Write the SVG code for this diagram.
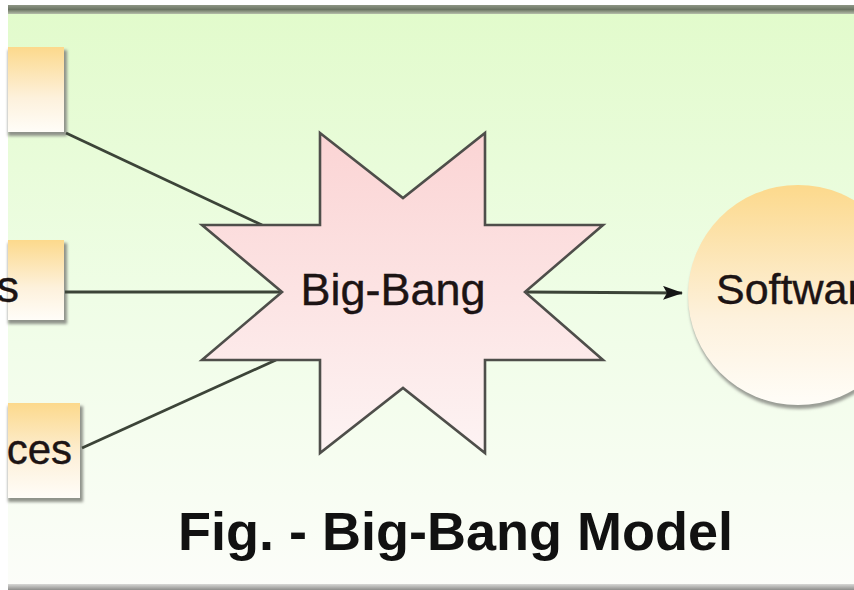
<svg xmlns="http://www.w3.org/2000/svg" width="854" height="590" viewBox="0 0 854 590">
  <defs>
    <linearGradient id="bg" x1="0" y1="0" x2="0" y2="1">
      <stop offset="0" stop-color="#e2fbcc"/>
      <stop offset="0.5" stop-color="#effde6"/>
      <stop offset="1" stop-color="#fcfdf9"/>
    </linearGradient>
    <linearGradient id="topband" x1="0" y1="0" x2="0" y2="1">
      <stop offset="0" stop-color="#8e9685"/>
      <stop offset="0.5" stop-color="#6c7564"/>
      <stop offset="1" stop-color="#b5bdaa"/>
    </linearGradient>
    <linearGradient id="botband" x1="0" y1="0" x2="0" y2="1">
      <stop offset="0" stop-color="#d8d8d6"/>
      <stop offset="1" stop-color="#8e8e8c"/>
    </linearGradient>
    <linearGradient id="orange" x1="0" y1="0" x2="0" y2="1">
      <stop offset="0" stop-color="#fcd98c"/>
      <stop offset="0.6" stop-color="#fdf1dc"/>
      <stop offset="1" stop-color="#fffdf8"/>
    </linearGradient>
    <linearGradient id="pink" x1="0" y1="0" x2="0" y2="1">
      <stop offset="0" stop-color="#fbd4d4"/>
      <stop offset="1" stop-color="#fdf3f3"/>
    </linearGradient>
    <filter id="blur" x="-20%" y="-20%" width="140%" height="140%">
      <feGaussianBlur stdDeviation="1.5"/>
    </filter>
    <marker id="arrowhead" viewBox="0 0 20 14" refX="19" refY="7" markerWidth="20" markerHeight="14" markerUnits="userSpaceOnUse" orient="auto">
      <path d="M0,0 L20,7 L0,14 L4,7 z" fill="#151515"/>
    </marker>
  </defs>
  <style>
    .shadow { fill: #8f938a; filter: url(#blur); }
    .box { fill: url(#orange); }
    .lbl { font-family: "Liberation Sans", Arial, sans-serif; font-size: 45px; fill: #1c1414; stroke: #1c1414; stroke-width: 0.4; }
    .conn { stroke: #3c4438; stroke-width: 2.8; fill: none; }
    .cap { font-family: "Liberation Sans", Arial, sans-serif; font-size: 54px; font-weight: bold; fill: #111; }
  </style>

  <rect x="0" y="0" width="854" height="590" fill="#ffffff"/>
  <rect x="8" y="14" width="846" height="572" fill="url(#bg)"/>
  <rect x="8" y="5" width="846" height="9" fill="url(#topband)"/>
  <rect x="8" y="584" width="846" height="6" fill="url(#botband)"/>

  <g id="node-box1">
    <rect class="shadow" x="8" y="50" width="59" height="86"/>
    <rect class="box" x="8" y="47" width="56" height="85"/>
  </g>

  <g id="node-box2">
    <rect class="shadow" x="8" y="243" width="59" height="81"/>
    <rect class="box" x="8" y="240" width="56" height="80"/>
    <text class="lbl" x="19" y="302" text-anchor="end">s</text>
  </g>

  <g id="node-box3">
    <rect class="shadow" x="8" y="406" width="75" height="96"/>
    <rect class="box" x="8" y="403" width="72" height="95"/>
    <text class="lbl" x="72" y="464" text-anchor="end" style="font-size:42px">ces</text>
  </g>

  <g id="connectors">
    <line class="conn" x1="66" y1="133" x2="262" y2="225"/>
    <line class="conn" x1="65" y1="292" x2="282" y2="292"/>
    <line class="conn" x1="82" y1="448" x2="276" y2="360"/>
    <line class="conn" x1="525" y1="292" x2="682" y2="293" marker-end="url(#arrowhead)"/>
  </g>

  <g id="node-bigbang">
    <polygon points="320,133 403,198 485,133 485,225 603,225 525,292 603,360 485,360 485,453 403,388 320,453 320,360 202,360 282,292 202,225 320,225"
      fill="url(#pink)" stroke="#4e4e4a" stroke-width="2.6" stroke-linejoin="miter"/>
    <text class="lbl" x="393" y="305" text-anchor="middle">Big-Bang</text>
  </g>

  <g id="node-software">
    <circle cx="799" cy="299" r="110" fill="#9a9d95" filter="url(#blur)"/>
    <circle cx="798" cy="295" r="110" fill="url(#orange)"/>
    <text class="lbl" x="716" y="304" style="font-size:43px">Software</text>
  </g>

  <text class="cap" x="178" y="550">Fig. - Big-Bang Model</text>
</svg>
